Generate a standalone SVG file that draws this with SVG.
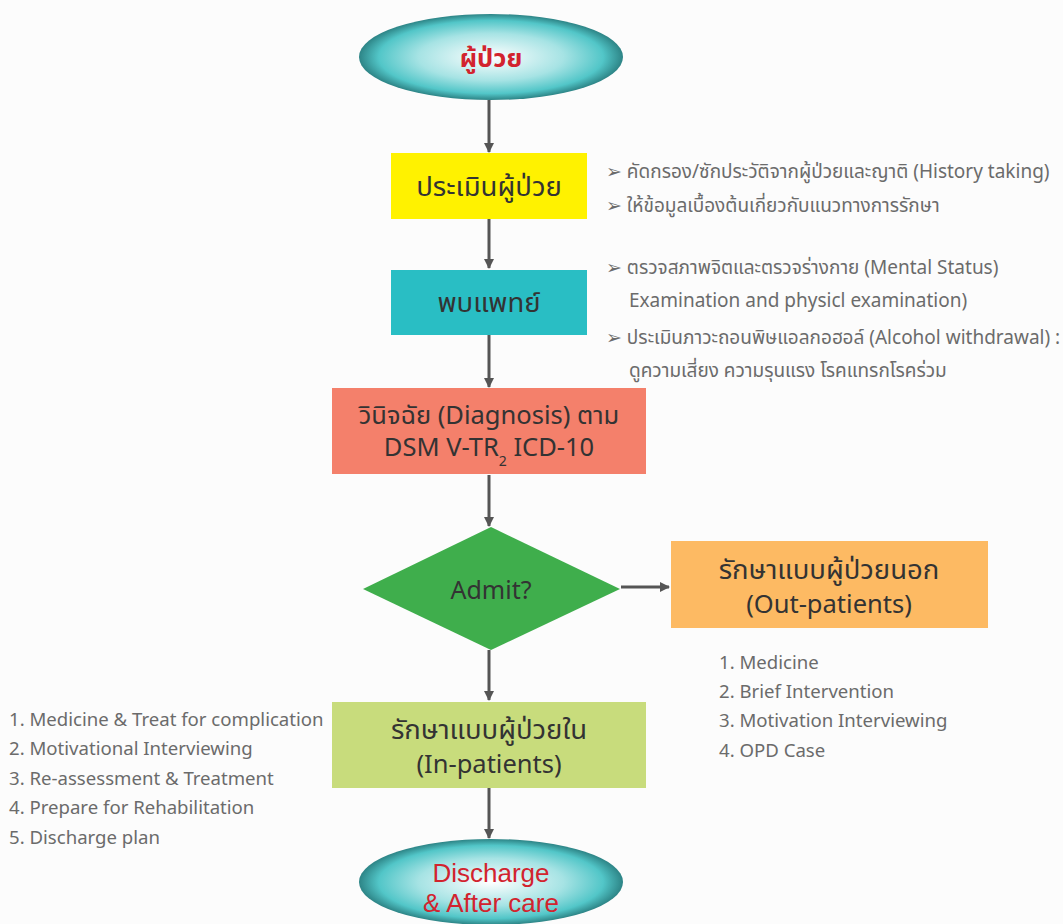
<svg xmlns="http://www.w3.org/2000/svg" width="1063" height="924" viewBox="0 0 1063 924">
<defs>
<radialGradient id="eg" cx="50%" cy="50%" r="50%">
<stop offset="0" stop-color="#ffffff"/>
<stop offset="0.55" stop-color="#a6e3e4"/>
<stop offset="0.85" stop-color="#52c6c8"/>
<stop offset="1" stop-color="#2d8486"/>
</radialGradient>
<marker id="ah" markerWidth="10" markerHeight="10" refX="9" refY="5" orient="auto" markerUnits="userSpaceOnUse" viewBox="0 0 10 10">
<path d="M0,0 L10,5 L0,10 z" fill="#555"/>
</marker>
<style>
.t{font-family:"Noto Sans","Noto Sans Thai","DejaVu Sans",sans-serif;}
.box{font-size:25.5px;fill:#333;text-anchor:middle;}
.th{font-size:27.5px;}
.side{font-size:19px;fill:#6b6b6b;}
.list{font-size:18.6px;fill:#6b6b6b;}
.red{font-size:25.5px;fill:#d2232e;text-anchor:middle;}
.dc{font-family:"Liberation Sans",Arial,sans-serif;font-size:26px;fill:#d2232e;text-anchor:middle;}
.c{stroke:#555;stroke-width:3;fill:none;marker-end:url(#ah);}
</style>
</defs>
<rect width="1063" height="924" fill="#fcfcfc"/>
<g id="connectors">
<line class="c" x1="489" y1="100" x2="489" y2="152"/>
<line class="c" x1="489" y1="219" x2="489" y2="268"/>
<line class="c" x1="489" y1="335" x2="489" y2="387"/>
<line class="c" x1="489" y1="475" x2="489" y2="526"/>
<line class="c" x1="621" y1="587" x2="669" y2="587"/>
<line class="c" x1="489" y1="650" x2="489" y2="700"/>
<line class="c" x1="489" y1="788" x2="489" y2="838"/>
</g>
<g id="start">
<ellipse cx="491" cy="57" rx="132" ry="43" fill="url(#eg)"/>
<text class="t red" x="491" y="67" font-size="28" font-weight="bold">ผู้ป่วย</text>
</g>
<g id="assess">
<rect x="391" y="153" width="196" height="66" fill="#fff200"/>
<text class="t box th" x="489" y="196">ประเมินผู้ป่วย</text>
</g>
<g id="assess-notes">
<text class="t side" x="606" y="178">➢ คัดกรอง/ซักประวัติจากผู้ป่วยและญาติ (History taking)</text>
<text class="t side" x="606" y="212">➢ ให้ข้อมูลเบื้องต้นเกี่ยวกับแนวทางการรักษา</text>
</g>
<g id="doctor">
<rect x="391" y="270" width="196" height="65" fill="#29bec4"/>
<text class="t box th" x="489" y="312">พบแพทย์</text>
</g>
<g id="doctor-notes">
<text class="t side" x="606" y="274">➢ ตรวจสภาพจิตและตรวจร่างกาย (Mental Status)</text>
<text class="t side" x="629" y="307">Examination and physicl examination)</text>
<text class="t side" x="606" y="344">➢ ประเมินภาวะถอนพิษแอลกอฮอล์ (Alcohol withdrawal) :</text>
<text class="t side" x="629" y="377">ดูความเสี่ยง ความรุนแรง โรคแทรกโรคร่วม</text>
</g>
<g id="diagnosis">
<rect x="332" y="388" width="314" height="86" fill="#f4806b"/>
<text class="t box" x="489" y="424">วินิจฉัย (Diagnosis) ตาม</text>
<text class="t box" x="489" y="456">DSM V-TR<tspan font-size="14" dy="10">2</tspan><tspan dy="-10"> ICD-10</tspan></text>
</g>
<g id="admit">
<polygon points="363,589 491,527 620,589 491,650" fill="#3fae4c"/>
<text class="t" x="491" y="599" font-size="25" fill="#333" text-anchor="middle">Admit?</text>
</g>
<g id="outpatient">
<rect x="671" y="541" width="317" height="87" fill="#fdba63"/>
<text class="t box th" x="829" y="579">รักษาแบบผู้ป่วยนอก</text>
<text class="t box" x="829" y="613">(Out-patients)</text>
</g>
<g id="outpatient-notes">
<text class="t list" x="719" y="669">1. Medicine</text>
<text class="t list" x="719" y="698">2. Brief Intervention</text>
<text class="t list" x="719" y="727">3. Motivation Interviewing</text>
<text class="t list" x="719" y="757">4. OPD Case</text>
</g>
<g id="inpatient">
<rect x="332" y="702" width="314" height="86" fill="#c8dc7c"/>
<text class="t box th" x="489" y="739">รักษาแบบผู้ป่วยใน</text>
<text class="t box" x="489" y="773">(In-patients)</text>
</g>
<g id="inpatient-notes">
<text class="t list" x="9" y="726">1. Medicine &amp; Treat for complication</text>
<text class="t list" x="9" y="755">2. Motivational Interviewing</text>
<text class="t list" x="9" y="785">3. Re-assessment &amp; Treatment</text>
<text class="t list" x="9" y="814">4. Prepare for Rehabilitation</text>
<text class="t list" x="9" y="844">5. Discharge plan</text>
</g>
<g id="discharge">
<ellipse cx="491" cy="882" rx="132" ry="43" fill="url(#eg)"/>
<text class="dc" x="491" y="882">Discharge</text>
<text class="dc" x="491" y="911.5">&amp; After care</text>
</g>
</svg>
